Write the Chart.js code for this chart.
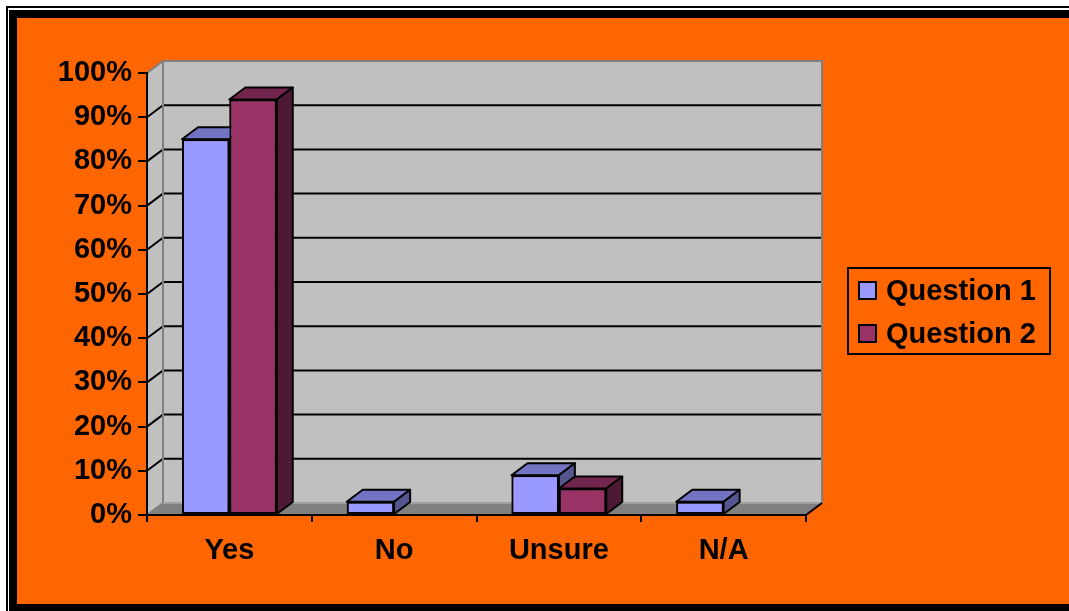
<!DOCTYPE html>
<html>
<head>
<meta charset="utf-8">
<script src="https://cdn.jsdelivr.net/npm/chart.js@4"></script>
<style>
    html, body {
        margin: 0;
        padding: 0;
        background: #fff;
        overflow: hidden;
    }
    #wrap {
        position: relative;
        width: 1069px;
        height: 611px;
    }
    #legend {
        position: absolute;
        left: 847px;
        top: 267px;
        width: 200px;
        height: 84px;
        border: 2px solid #000;
        font: bold 29px "Liberation Sans", Arial, sans-serif;
        color: #000;
        white-space: nowrap;
    }
    #legend .item {
        display: flex;
        align-items: center;
        height: 43px;
    }
    #legend .swatch {
        width: 15px;
        height: 15px;
        border: 2px solid #000;
        margin-left: 9px;
        margin-right: 9px;
        flex: none;
    }
</style>
</head>
<body>
<div id="wrap">
    <canvas id="chart" width="1069" height="611"></canvas>
    <div id="legend"></div>
</div>
<script>
const categories = ['Yes', 'No', 'Unsure', 'N/A'];
const seriesNames = ['Question 1', 'Question 2'];
const question1 = [85, 3, 9, 3];
const question2 = [94, 0, 6, 0];
const yTickValues = [0, 10, 20, 30, 40, 50, 60, 70, 80, 90, 100];

// front / top / side shades for each series
const faces = [
    { front: '#9999FF', top: '#7373C4', side: '#55558F' },
    { front: '#993366', top: '#73264D', side: '#4D1A33' }
];
const DEPTH_X = 16;
const DEPTH_Y = 12;
const ORANGE = '#FF6600';

function polygon(ctx, pts, fill, stroke, width) {
    ctx.beginPath();
    ctx.moveTo(pts[0][0], pts[0][1]);
    for (let i = 1; i < pts.length; i++) ctx.lineTo(pts[i][0], pts[i][1]);
    ctx.closePath();
    if (fill) {
        ctx.fillStyle = fill;
        ctx.fill();
    }
    if (stroke) {
        ctx.strokeStyle = stroke;
        ctx.lineWidth = width;
        ctx.stroke();
    }
}

// orange panel with the double black frame, then walls, floor and gridlines
const backdrop = {
    id: 'backdrop',
    beforeDraw(chart) {
        const ctx = chart.ctx;
        const w = chart.width, h = chart.height;
        ctx.save();
        ctx.fillStyle = '#fff';
        ctx.fillRect(0, 0, w, h);
        ctx.fillStyle = '#000';
        ctx.fillRect(6, 6, w, h);
        ctx.fillStyle = '#fff';
        ctx.fillRect(8, 8, w, h);
        ctx.fillStyle = '#000';
        ctx.fillRect(9, 10, w, h);
        ctx.fillStyle = ORANGE;
        ctx.fillRect(17, 18, w, h - 18 - 7);

        const { left: L, right: R, top: T, bottom: B } = chart.chartArea;
        const dx = DEPTH_X, dy = DEPTH_Y;
        const yScale = chart.scales.y;

        // back wall
        polygon(ctx, [[L + dx, T - dy], [R + dx, T - dy], [R + dx, B - dy], [L + dx, B - dy]], '#C0C0C0');
        // side wall
        polygon(ctx, [[L, T], [L + dx, T - dy], [L + dx, B - dy], [L, B]], '#C0C0C0');
        // floor
        polygon(ctx, [[L, B], [L + dx, B - dy], [R + dx, B - dy], [R, B]], '#808080');

        // gridlines across side wall and back wall
        ctx.lineWidth = 2;
        ctx.strokeStyle = '#000';
        yTickValues.forEach(v => {
            if (v === yTickValues[0] || v === yTickValues[yTickValues.length - 1]) return;
            const y = yScale.getPixelForValue(v);
            ctx.beginPath();
            ctx.moveTo(L, y);
            ctx.lineTo(L + dx, y - dy);
            ctx.lineTo(R + dx, y - dy);
            ctx.stroke();
        });

        // wall edges
        ctx.strokeStyle = '#808080';
        ctx.lineWidth = 2;
        ctx.beginPath();
        ctx.moveTo(L, T);
        ctx.lineTo(L + dx, T - dy);
        ctx.lineTo(R + dx, T - dy);
        ctx.lineTo(R + dx, B - dy);
        ctx.moveTo(L + dx, T - dy);
        ctx.lineTo(L + dx, B - dy);
        ctx.lineTo(L, B);
        ctx.stroke();
        ctx.strokeStyle = '#A0A0A0';
        ctx.beginPath();
        ctx.moveTo(L + dx, B - dy);
        ctx.lineTo(R + dx, B - dy);
        ctx.stroke();
        ctx.strokeStyle = '#000';
        ctx.beginPath();
        ctx.moveTo(R, B);
        ctx.lineTo(R + dx, B - dy);
        ctx.stroke();
        ctx.restore();
    }
};

// Chart.js paints the first dataset last; repaint the columns front to back
// in series order, each with its top and right faces
const columns3d = {
    id: 'columns3d',
    afterDatasetsDraw(chart) {
        const ctx = chart.ctx;
        const dx = DEPTH_X, dy = DEPTH_Y;
        ctx.save();
        ctx.lineJoin = 'round';
        chart.data.datasets.forEach((ds, d) => {
            const meta = chart.getDatasetMeta(d);
            const shade = faces[d];
            meta.data.forEach((bar, i) => {
                if (!ds.data[i]) return;
                bar.draw(ctx, chart.chartArea);
                const { x, y, base, width } = bar.getProps(['x', 'y', 'base', 'width'], true);
                const l = x - width / 2, r = x + width / 2;
                polygon(ctx, [[l, y], [l + dx, y - dy], [r + dx, y - dy], [r, y]], shade.top, '#000', 2);
                polygon(ctx, [[r, y], [r + dx, y - dy], [r + dx, base - dy], [r, base]], shade.side, '#000', 2);
            });
        });
        ctx.restore();
    }
};

const labelFont = { family: "'Liberation Sans', Arial, sans-serif", size: 29, weight: 'bold' };

const chart = new Chart(document.getElementById('chart'), {
    type: 'bar',
    data: {
        labels: categories,
        datasets: [question1, question2].map((values, i) => ({
            label: seriesNames[i],
            data: values,
            backgroundColor: faces[i].front,
            borderColor: '#000',
            borderWidth: 2,
            borderSkipped: false,
            categoryPercentage: 0.575,
            barPercentage: 1.0
        }))
    },
    options: {
        responsive: false,
        animation: false,
        events: [],
        layout: {
            padding: { left: 0, top: 73, right: 263, bottom: 0 }
        },
        plugins: {
            legend: { display: false },
            tooltip: { enabled: false }
        },
        scales: {
            x: {
                afterFit(scale) { scale.height = 96; },
                grid: {
                    offset: true,
                    drawOnChartArea: false,
                    drawTicks: true,
                    tickLength: 7,
                    color: '#000',
                    lineWidth: 2
                },
                border: { display: true, color: '#000', width: 2 },
                ticks: {
                    color: '#000',
                    font: labelFont,
                    padding: 12,
                    autoSkip: false,
                    maxRotation: 0
                }
            },
            y: {
                min: yTickValues[0],
                max: yTickValues[yTickValues.length - 1],
                afterFit(scale) { scale.width = 147; },
                afterBuildTicks(scale) {
                    scale.ticks = yTickValues.map(v => ({ value: v }));
                },
                grid: {
                    drawOnChartArea: false,
                    drawTicks: true,
                    tickLength: 9,
                    color: '#000',
                    lineWidth: 2
                },
                border: { display: true, color: '#000', width: 2 },
                ticks: {
                    color: '#000',
                    font: labelFont,
                    padding: 6,
                    callback: v => v + '%'
                }
            }
        }
    },
    plugins: [backdrop, columns3d]
});

// legend box on the right
const legend = document.getElementById('legend');
chart.data.datasets.forEach(ds => {
    const item = document.createElement('div');
    item.className = 'item';
    const swatch = document.createElement('span');
    swatch.className = 'swatch';
    swatch.style.background = ds.backgroundColor;
    const text = document.createElement('span');
    text.textContent = ds.label;
    item.appendChild(swatch);
    item.appendChild(text);
    legend.appendChild(item);
});
</script>
</body>
</html>
